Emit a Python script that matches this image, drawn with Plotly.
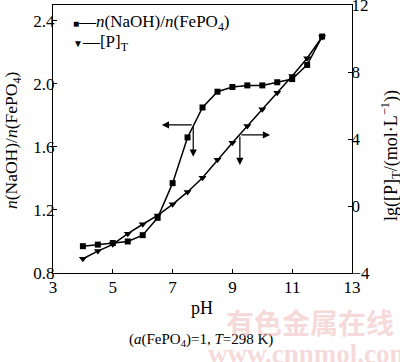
import plotly.graph_objects as go

ph = [4, 4.5, 5, 5.5, 6, 6.5, 7, 7.5, 8, 8.5, 9, 9.5, 10, 10.5, 11, 11.5, 12]
ratio = [0.97, 0.98, 0.99, 1.00, 1.04, 1.15, 1.37, 1.66, 1.85, 1.95, 1.98, 1.99, 1.99, 2.01, 2.03, 2.12, 2.30]
lgP = [-3.15, -2.69, -2.29, -1.65, -1.09, -0.56, 0.10, 0.84, 1.69, 2.76, 3.78, 4.78, 5.77, 6.76, 7.76, 8.82, 10.09]

x_ticks = [3, 5, 7, 9, 11, 13]
y_ticks = [0.8, 1.2, 1.6, 2.0, 2.4]
y2_ticks = [-4, 0, 4, 8, 12]

FONT = "Liberation Serif"

fig = go.Figure()
fig.add_trace(go.Scatter(
    x=ph, y=ratio, mode="lines+markers", name="n(NaOH)/n(FePO4)",
    line=dict(color="black", width=1.5),
    marker=dict(symbol="square", size=6, color="black"),
))
fig.add_trace(go.Scatter(
    x=ph, y=lgP, mode="lines+markers", name="[P]T", yaxis="y2",
    line=dict(color="black", width=1.5),
    marker=dict(symbol="triangle-down", size=7, color="black"),
))

axis_common = dict(
    showline=True, linecolor="black", linewidth=1.2,
    ticks="inside", ticklen=4, tickwidth=1, tickcolor="black",
    showgrid=False, zeroline=False, automargin=False,
    ticklabeloverflow="allow",
    tickfont=dict(family=FONT, size=17, color="black"),
)

fig.update_layout(
    width=400, height=362,
    margin=dict(l=53, r=48, t=5, b=89, autoexpand=False),
    plot_bgcolor="white", paper_bgcolor="white",
    showlegend=False,
    font=dict(family=FONT, color="black"),
    xaxis=dict(range=[3, 13], tickvals=x_ticks, mirror=True,
               ticklabelstandoff=-2, **axis_common),
    yaxis=dict(range=[0.8, 2.5], tickvals=y_ticks, tickformat=".1f",
               ticklabelstandoff=-6, **axis_common),
    yaxis2=dict(range=[-4, 12.001], tickvals=y2_ticks, overlaying="y", side="right",
                ticklabelstandoff=-5, **axis_common),
)

annotations = []
# axis titles
annotations.append(dict(xref="paper", yref="paper", x=(12 - 53) / 299, y=(273 - 140) / 268,
                        text="<i>n</i>(NaOH)/<i>n</i>(FePO<sub>4</sub>)", textangle=-90,
                        showarrow=False, font=dict(family=FONT, size=17.5), xanchor="center", yanchor="middle"))
annotations.append(dict(xref="paper", yref="paper", x=(390 - 53) / 299, y=(273 - 156) / 268,
                        text="lg([P]<sub>T</sub>/(mol·L<sup>−1</sup>))", textangle=-90,
                        showarrow=False, font=dict(family=FONT, size=18), xanchor="center", yanchor="middle"))
annotations.append(dict(xref="paper", yref="paper", x=(202 - 53) / 299, y=(273 - 308) / 268,
                        text="pH", showarrow=False, font=dict(family=FONT, size=18),
                        xanchor="center", yanchor="middle"))
annotations.append(dict(xref="paper", yref="paper", x=(201 - 53) / 299, y=(273 - 340) / 268,
                        text="(<i>a</i>(FePO<sub>4</sub>)=1, <i>T</i>=298 K)", showarrow=False,
                        font=dict(family=FONT, size=15), xanchor="center", yanchor="middle"))
# legend
annotations.append(dict(xref="paper", yref="paper", x=(71 - 53) / 299, y=(273 - 23) / 268,
                        text="<span style='font-size:10px'>■</span>—<i>n</i>(NaOH)/<i>n</i>(FePO<sub>4</sub>)",
                        showarrow=False, font=dict(family=FONT, size=17), xanchor="left", yanchor="middle"))
annotations.append(dict(xref="paper", yref="paper", x=(71 - 53) / 299, y=(273 - 43) / 268,
                        text="<span style='font-size:10px'>▼</span>—[P]<sub>T</sub>",
                        showarrow=False, font=dict(family=FONT, size=17), xanchor="left", yanchor="middle"))
# indicator arrows
arrows = [
    (6.64, 1.739, 7.69, 1.739),
    (7.69, 1.538, 7.69, 1.739),
    (10.26, 1.676, 9.25, 1.676),
    (9.25, 1.485, 9.25, 1.676),
]
for hx, hy, tx, ty in arrows:
    annotations.append(dict(x=hx, y=hy, ax=tx, ay=ty, xref="x", yref="y", axref="x", ayref="y",
                            text="", showarrow=True, arrowhead=2, arrowsize=1.2, arrowwidth=1.2,
                            arrowcolor="black"))
# watermark
annotations.append(dict(xref="paper", yref="paper", x=(310 - 53) / 299, y=(273 - 322) / 268,
                        text="<b>有色金属在线</b>", showarrow=False,
                        font=dict(family="Noto Sans CJK SC", size=28, color="rgba(235,170,170,0.45)"),
                        xanchor="center", yanchor="middle"))
annotations.append(dict(xref="paper", yref="paper", x=(310 - 53) / 299, y=(273 - 354) / 268,
                        text="<b>www.cnnmol.com</b>", showarrow=False,
                        font=dict(family=FONT, size=27, color="rgba(235,170,170,0.45)"),
                        xanchor="center", yanchor="middle"))
fig.update_layout(annotations=annotations)

fig.write_html("out.html", config={"displayModeBar": False},
               post_script="document.body.style.margin='0';document.body.style.overflow='hidden';")
